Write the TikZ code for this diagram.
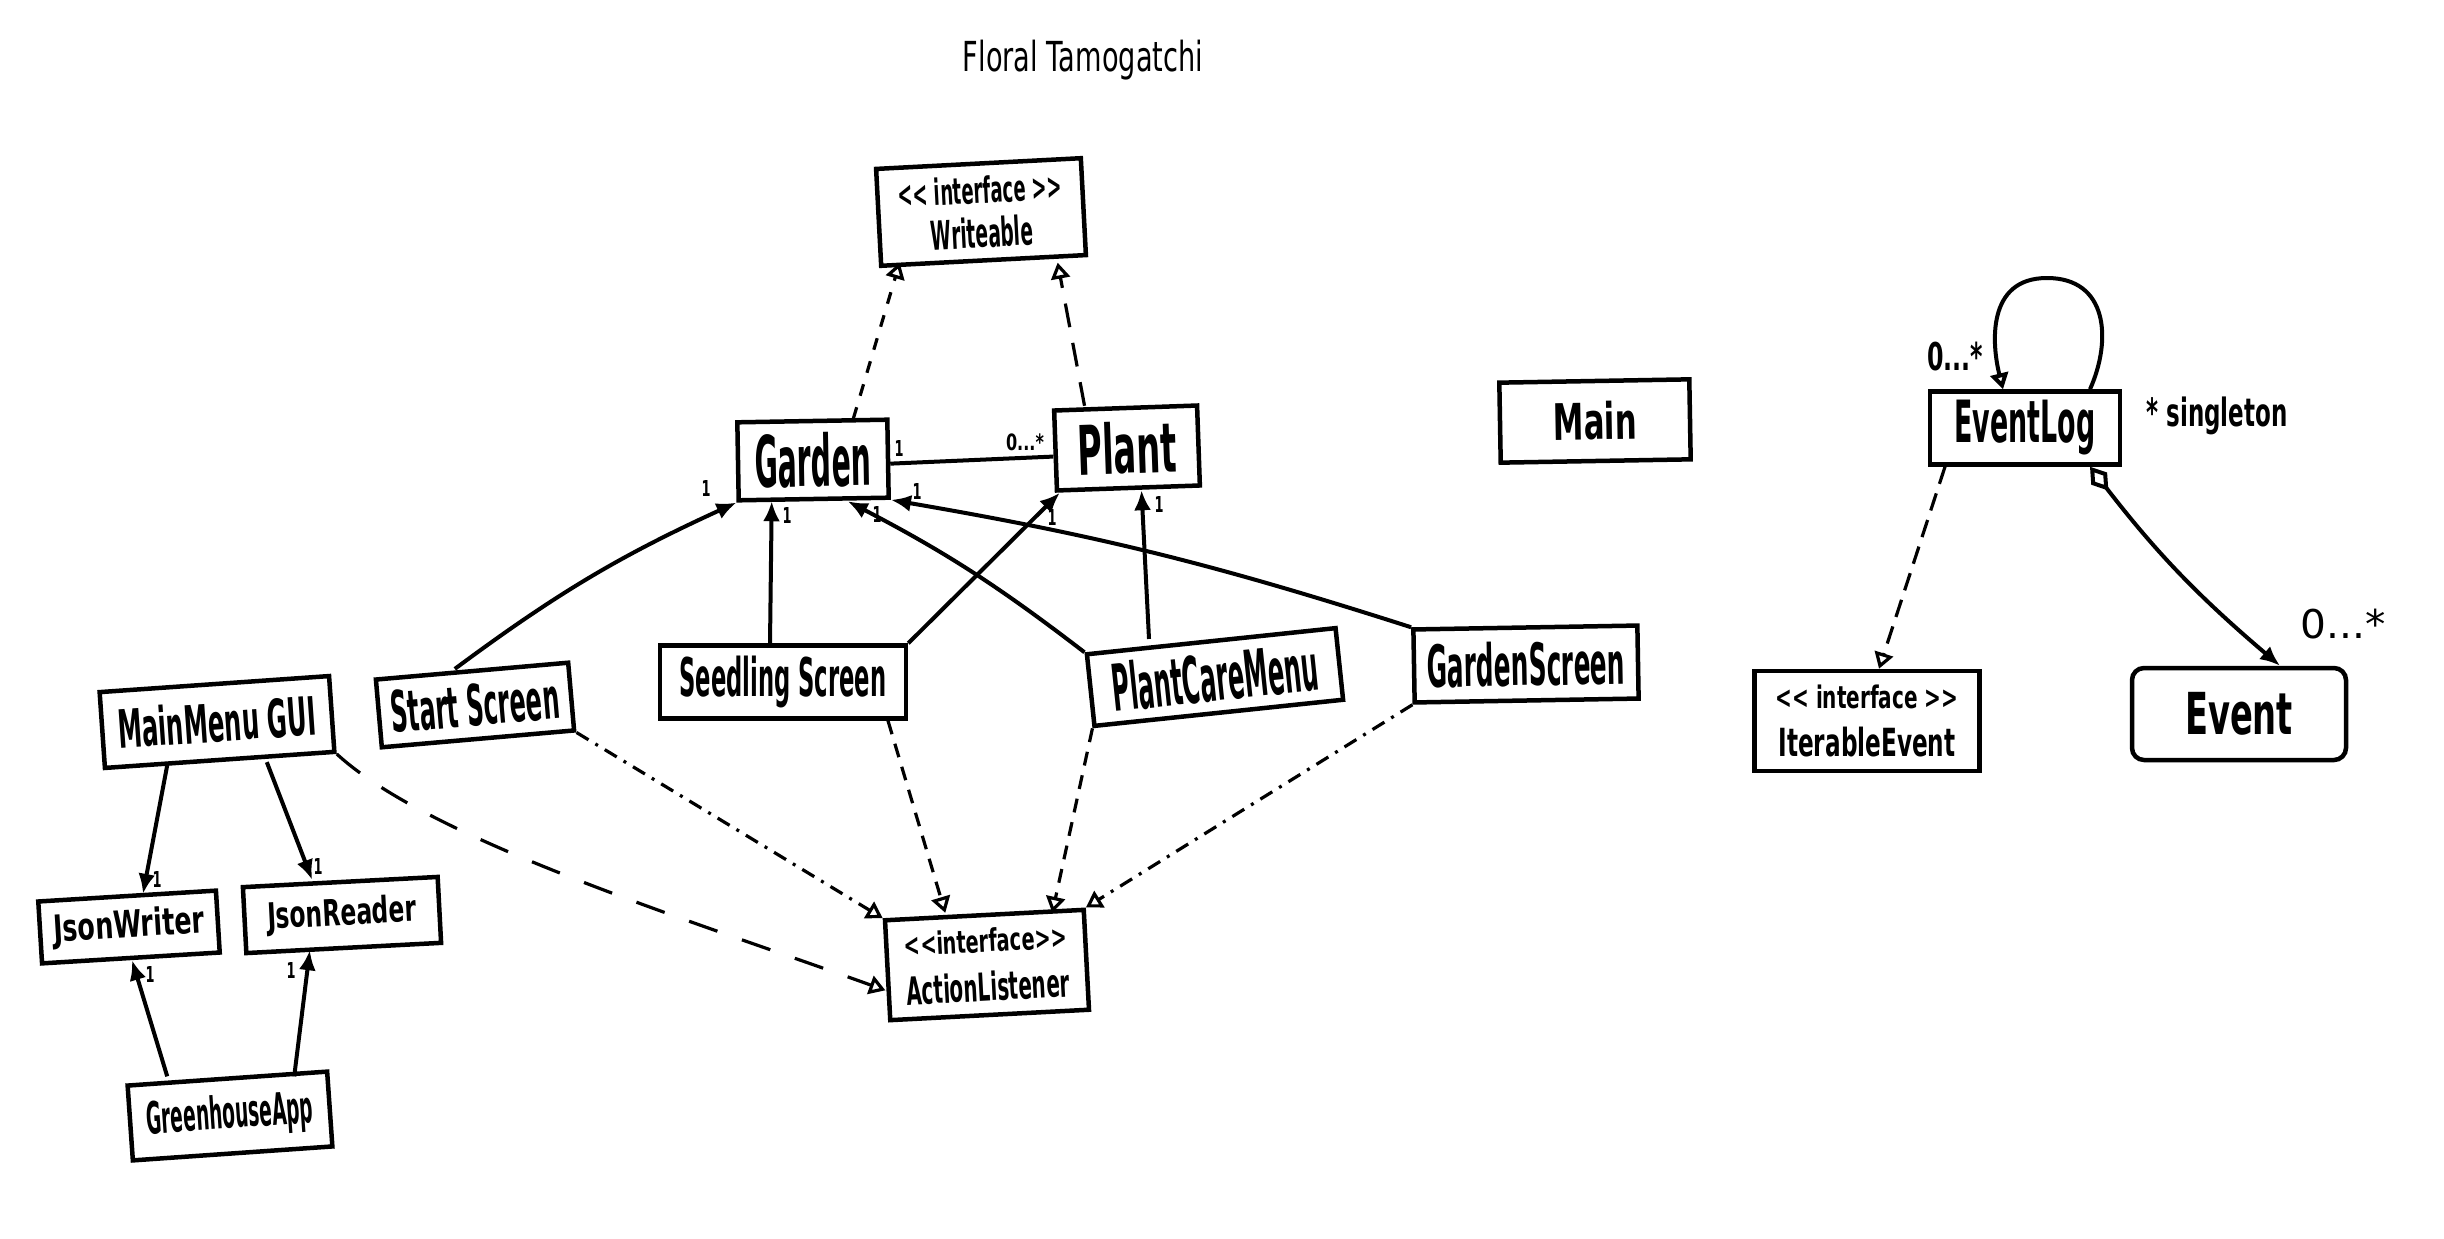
\documentclass[tikz,border=0pt]{standalone}
\usepackage{fontspec}
\newfontfamily\hand{DejaVu Sans}[Ligatures=TeXOff]
\usetikzlibrary{arrows.meta,calc}
\newcommand{\hw}[3]{\resizebox*{#1pt}{#2pt}{\hand\bfseries #3}}
\newcommand{\hrr}[3]{\resizebox*{#1pt}{#2pt}{\hand #3}}
\begin{document}
\begin{tikzpicture}[x=1pt,y=-1pt,
  cls/.style={draw,line width=4.5pt,inner sep=0pt,align=center},
  assoc/.style={line width=4pt,-{Latex[length=20pt,width=17pt]}},
  realz/.style={line width=3.2pt,-{Triangle[open,length=16pt,width=19pt]}},
  lbl/.style={inner sep=0pt},
  shortdash/.style={dash pattern=on 14pt off 10pt},
  dashdotx/.style={dash pattern=on 14pt off 8pt on 3pt off 8pt},
  longdash/.style={dash pattern=on 30pt off 26pt}]
\fill[white] (0,0) rectangle (2444,1239);
\useasboundingbox (0,0) rectangle (2444,1239);

% title
\node[lbl] (title) at (1083,60) {\hrr{240}{40}{Floral Tamogatchi}};

% classes
\node[cls,minimum width=205pt,minimum height=97pt,rotate=3] (wr) at (981,212)
  {\hw{164}{28}{<< interface >>}\\[12pt]\hw{102}{31}{Writeable}};
\node[cls,minimum width=150pt,minimum height=78pt,rotate=1] (ga) at (813,460) {\hw{116}{55}{Garden}};
\node[cls,minimum width=143pt,minimum height=80pt,rotate=2] (pl) at (1127,448) {\hw{99}{53}{Plant}};
\node[cls,minimum width=190pt,minimum height=80pt,rotate=1] (mn) at (1595,421) {\hw{84}{39}{Main}};
\node[cls,minimum width=190pt,minimum height=73pt] (el) at (2025,428) {\hw{141}{55}{EventLog}};
\node[cls,minimum width=225pt,minimum height=100pt] (ie) at (1867,721)
  {\hw{183}{24}{<< interface >>}\\[18pt]\hw{177}{30}{IterableEvent}};
\node[cls,minimum width=214pt,minimum height=92pt,rounded corners=12pt] (ev) at (2239,714) {\hw{108}{43}{Event}};

\node[cls,minimum width=230pt,minimum height=76pt,rotate=4] (mm) at (217,722) {\hw{199}{41}{MainMenu GUI}};
\node[cls,minimum width=193pt,minimum height=68pt,rotate=5] (ss) at (475,705) {\hw{169}{43}{Start Screen}};
\node[cls,minimum width=246pt,minimum height=73pt] (sd) at (783,682) {\hw{207}{52}{Seedling Screen}};
\node[cls,minimum width=250pt,minimum height=72pt,rotate=6] (pc) at (1215,677) {\hw{207}{50}{PlantCareMenu}};
\node[cls,minimum width=224pt,minimum height=73pt,rotate=1] (gs) at (1526,664) {\hw{198}{45}{GardenScreen}};
\node[cls,minimum width=178pt,minimum height=62pt,rotate=3.5] (jw) at (129,927) {\hw{151}{36}{JsonWriter}};
\node[cls,minimum width=195pt,minimum height=66pt,rotate=3] (jr) at (342,915) {\hw{149}{35}{JsonReader}};
\node[cls,minimum width=200pt,minimum height=75pt,rotate=4] (gh) at (230,1116) {\hw{167}{43}{GreenhouseApp}};
\node[cls,minimum width=199pt,minimum height=100pt,rotate=3] (al) at (987,965)
  {\hw{163}{24}{<<interface>>}\\[18pt]\hw{163}{30}{ActionListener}};

% free labels
\node[lbl] (single) at (2217,416) {\hw{141}{38}{* singleton}};
\node[lbl] (mgp) at (1025,442) {\hw{38}{17}{0...*}};
\node[lbl] (mloop) at (1955,357) {\hw{56}{29}{0...*}};
\node[lbl] (mev) at (2343,624) {\hrr{85}{30}{0...*}};
\node[lbl] (m1) at (899,448) {\hw{9}{16}{1}};
\node[lbl] (m2) at (706,488) {\hw{9}{16}{1}};
\node[lbl] (m3) at (787,515) {\hw{9}{16}{1}};
\node[lbl] (m4) at (877,514) {\hw{9}{16}{1}};
\node[lbl] (m5) at (917,491) {\hw{9}{16}{1}};
\node[lbl] (m6) at (1052,517) {\hw{9}{16}{1}};
\node[lbl] (m7) at (1159,504) {\hw{9}{16}{1}};
\node[lbl] (m8) at (157,879) {\hw{9}{16}{1}};
\node[lbl] (m9) at (318,866) {\hw{9}{16}{1}};
\node[lbl] (m10) at (150,974) {\hw{9}{16}{1}};
\node[lbl] (m11) at (291,970) {\hw{9}{16}{1}};

% realizations to Writeable
\draw[realz,dash pattern=on 12pt off 12pt] ([xshift=41pt]ga.north) -- ([xshift=-84pt]wr.south);
\draw[realz,dash pattern=on 24pt off 16pt] ([xshift=-41pt]pl.north) -- ([xshift=74pt]wr.south);

% Garden - Plant
\draw[line width=4pt] ([yshift=-5pt]ga.east) -- ([yshift=-6pt]pl.west);

% associations to Garden / Plant
\draw[assoc] ([xshift=-17pt]ss.north) to[bend left=6] (ga.south west);
\draw[assoc] ([xshift=-13pt]sd.north) -- ([xshift=-42pt]ga.south);
\draw[assoc] (sd.north east) -- ([xshift=5pt]pl.south west);
\draw[assoc] (pc.north west) to[bend right=5] ([xshift=34pt]ga.south);
\draw[assoc] ([xshift=-62pt]pc.north) -- ([xshift=13pt]pl.south);
\draw[assoc] (gs.north west) to[bend right=4] (ga.south east);

% realizations to ActionListener
\draw[realz,longdash] (mm.south east) .. controls (430,840) and (690,920) .. ([yshift=-20pt]al.west);
\draw[realz,dashdotx] (ss.south east) -- (al.north west);
\draw[realz,shortdash] ([xshift=105pt]sd.south) -- ([xshift=-39pt]al.north);
\draw[realz,shortdash] (pc.south west) -- ([xshift=68pt]al.north);
\draw[realz,dashdotx] (gs.south west) -- (al.north east);

% left cluster
\draw[assoc] ([xshift=-52pt]mm.south) -- ([xshift=16pt]jw.north);
\draw[assoc] ([xshift=47pt]mm.south) -- ([xshift=-28pt]jr.north);
\draw[assoc] ([xshift=-60pt]gh.north) -- ([xshift=1pt]jw.south);
\draw[assoc] ([xshift=67pt]gh.north) -- ([xshift=-34pt]jr.south);

% EventLog
\coordinate (looptop) at (2047,278);
\draw[line width=4pt,-{Triangle[open,length=16pt,width=18pt]}] ([xshift=65pt]el.north)
  .. controls (2112,340) and (2108,278) .. (looptop)
  .. controls (1986,278) and (1992,345) .. ([xshift=-22pt]el.north);
\draw[realz,dash pattern=on 18pt off 10pt] ([xshift=-80pt]el.south) -- ([xshift=12pt]ie.north);
\draw[line width=4pt,{Diamond[open,length=30pt,width=20pt]}-{Latex[length=20pt,width=17pt]}]
  ([xshift=65pt]el.south) to[bend right=6] ([xshift=41pt]ev.north);
\end{tikzpicture}
\end{document}
